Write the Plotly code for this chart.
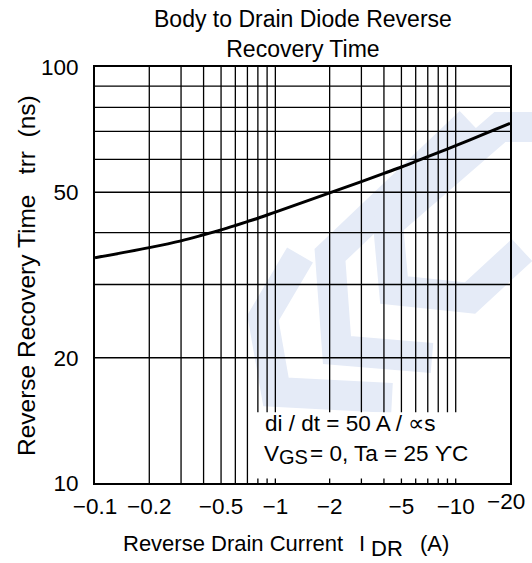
import plotly.graph_objects as go

# ---- data ----
current_A = [0.1, 0.2, 0.3, 0.4, 0.5, 0.6, 0.7, 0.8, 1, 2, 3, 4, 5, 6, 7, 10, 15, 20]
trr_ns = [34.8, 36.8, 38.2, 39.5, 40.6, 41.6, 42.5, 43.3, 44.8, 49.8, 53.0, 55.5, 57.5, 59.3, 60.9, 64.7, 69.5, 73.2]

x_grid = [0.2, 0.3, 0.4, 0.5, 0.6, 0.7, 0.8, 0.9, 1, 2, 3, 4, 5, 6, 7, 8, 9, 10]
x_tick_vals = [0.1, 0.2, 0.5, 1, 2, 5, 10]
x_tick_text = ["\u22120.1", "\u22120.2", "\u22120.5", "\u22121", "\u22122", "\u22125", "\u221210"]
x_last_val = 20
x_last_text = "\u221220"
y_grid = [20, 30, 40, 50, 60, 70, 80, 90]
y_tick_vals = [10, 20, 50, 100]
y_tick_text = ["10", "20", "50", "100"]

title_text = "Body to Drain Diode Reverse<br>Recovery Time"
y_title = "Reverse Recovery Time\u00a0\u00a0\u00a0trr\u00a0\u00a0(ns)"
note1 = "di / dt = 50 A / \u221ds"
note2_a, note2_sub, note2_b = "V", "GS", "= 0, Ta = 25 \u03d2C"

FONT = "Liberation Sans, Arial, sans-serif"
FS = 22.5
WM = "#e5ebf7"

# plot area in pixels (for placing decorations)
L, R, T, B = 95, 510, 67, 483
def px(x):
    return (x - L) / (R - L)
def py(y):
    return (B - y) / (B - T)

fig = go.Figure()

# light watermark (background decoration)
wm_paths = [
    [(300, 255), (263, 318), (276, 392), (392, 398)],
    [(470, 122), (330, 255), (337, 350), (432, 358)],
    [(545, 127), (500, 127), (388, 224), (394, 290), (470, 298), (522, 250)],
]
shapes = []
for pts in wm_paths:
    path = "M " + " L ".join(f"{px(a):.4f},{py(b):.4f}" for a, b in pts)
    shapes.append(dict(type="path", xref="paper", yref="paper", path=path,
                       line=dict(color=WM, width=30), layer="below"))
# white box behind the conditions note
shapes.append(dict(type="rect", xref="x", yref="y",
                   x0=0.75, x1=19.5, y0=10.25, y1=14.8,
                   fillcolor="white", line=dict(width=0), layer="above"))

# grid lines
for xv in x_grid:
    fig.add_trace(go.Scatter(x=[xv, xv], y=[10, 100], mode="lines",
                             line=dict(color="black", width=1.3),
                             hoverinfo="skip", showlegend=False))
for yv in y_grid:
    fig.add_trace(go.Scatter(x=[0.1, 20], y=[yv, yv], mode="lines",
                             line=dict(color="black", width=1.3),
                             hoverinfo="skip", showlegend=False))

# curve
fig.add_trace(go.Scatter(x=current_A, y=trr_ns, mode="lines",
                         line=dict(color="black", width=3, shape="spline", smoothing=1.0),
                         showlegend=False))

fig.update_layout(
    width=532, height=563,
    margin=dict(l=L, r=532 - R, t=T, b=563 - B),
    paper_bgcolor="white", plot_bgcolor="rgba(0,0,0,0)",
    showlegend=False,
    font=dict(family=FONT, size=FS, color="black"),
    shapes=shapes,
    xaxis=dict(type="log", range=[-1, 1.30103], showgrid=False, zeroline=False,
               tickvals=x_tick_vals, ticktext=x_tick_text, ticks="",
               tickfont=dict(size=FS), showline=True, linewidth=2, linecolor="black",
               mirror=True, ticklabelstandoff=2),
    yaxis=dict(type="log", range=[1, 2], showgrid=False, zeroline=False,
               tickvals=y_tick_vals, ticktext=y_tick_text, ticks="",
               tickfont=dict(size=FS), showline=True, linewidth=2, linecolor="black",
               mirror=True, ticklabelstandoff=10),
)

annos = []
annos.append(dict(text=title_text, x=0.5, y=1.0, xref="paper", yref="paper",
                  xanchor="center", yanchor="bottom", yshift=3, showarrow=False,
                  font=dict(size=23)))
annos.append(dict(text=x_last_text, x=1.30103, y=0, xref="x", yref="paper",
                  xanchor="center", yanchor="top", yshift=-4, xshift=-4, showarrow=False,
                  font=dict(size=FS)))
annos.append(dict(text=y_title, x=px(26), y=py(276), xref="paper", yref="paper",
                  xanchor="center", yanchor="middle", textangle=-90, showarrow=False,
                  font=dict(size=24.5)))
# x axis title pieces
XT = 22
annos.append(dict(text="Reverse Drain Current", x=px(233), y=py(543), xref="paper", yref="paper",
                  xanchor="center", yanchor="middle", showarrow=False, font=dict(size=XT)))
annos.append(dict(text="I", x=px(362), y=py(543), xref="paper", yref="paper",
                  xanchor="center", yanchor="middle", showarrow=False, font=dict(size=XT)))
annos.append(dict(text="DR", x=px(387), y=py(548), xref="paper", yref="paper",
                  xanchor="center", yanchor="middle", showarrow=False, font=dict(size=XT)))
annos.append(dict(text="(A)", x=px(434), y=py(543), xref="paper", yref="paper",
                  xanchor="center", yanchor="middle", showarrow=False, font=dict(size=XT)))
# conditions note
annos.append(dict(text=note1, x=px(263), y=py(423), xref="paper", yref="paper",
                  xanchor="left", yanchor="middle", showarrow=False, font=dict(size=FS)))
annos.append(dict(text=note2_a, x=px(262), y=py(453), xref="paper", yref="paper",
                  xanchor="left", yanchor="middle", showarrow=False, font=dict(size=FS)))
annos.append(dict(text=note2_sub, x=px(277), y=py(457), xref="paper", yref="paper",
                  xanchor="left", yanchor="middle", showarrow=False, font=dict(size=20)))
annos.append(dict(text=note2_b, x=px(308), y=py(453), xref="paper", yref="paper",
                  xanchor="left", yanchor="middle", showarrow=False, font=dict(size=FS)))
fig.update_layout(annotations=annos)

fig.write_html("out.html", config={"displayModeBar": False},
               post_script="document.body.style.margin='0';document.body.style.overflow='hidden';")
